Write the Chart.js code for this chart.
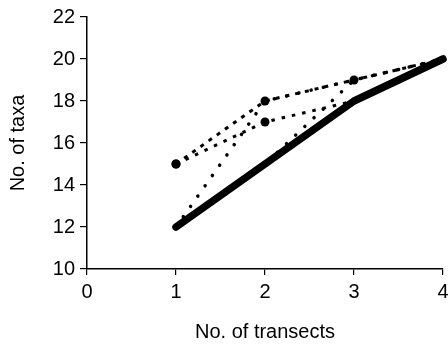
<!DOCTYPE html>
<html>
<head>
<meta charset="utf-8">
<script src="https://cdn.jsdelivr.net/npm/chart.js@4.4.1/dist/chart.umd.min.js"></script>
<style>
  html, body { margin: 0; padding: 0; background: #fff; }
  #wrap { width: 448px; height: 346px; }
</style>
</head>
<body>
<div id="wrap"><canvas id="c" width="448" height="346"></canvas></div>
<script>
// Cumulative number of taxa against number of transects sampled
const transects = [1, 2, 3, 4];
const meanTaxa   = [12, 15, 18, 20];   // thick solid curve
const orderA     = [15, 18, 19, 20];   // dashed, upper
const orderB     = [15, 17, 18, 20];   // dashed, lower
const orderC     = [12, 18, 19, 20];   // dotted, steep start
const orderD     = [12, 15, 19, 20];   // dotted, steep after 2
const xTicks = [0, 1, 2, 3, 4];
const yTicks = [10, 12, 14, 16, 18, 20, 22];

const pts = vals => transects.map((x, i) => ({ x: x, y: vals[i] }));
const FONT = { family: '"Liberation Sans", Arial, sans-serif', size: 20 };

new Chart(document.getElementById('c'), {
  type: 'line',
  data: {
    datasets: [
      { data: pts(orderD), borderColor: '#000', borderWidth: 3.5, borderDash: [0.1, 12.5],
        borderCapStyle: 'round', pointRadius: 0, clip: false },
      { data: pts(orderC), borderColor: '#000', borderWidth: 3.5, borderDash: [0.1, 12.5],
        borderCapStyle: 'round', pointRadius: 0, clip: false },
      { data: pts(orderB), borderColor: '#000', borderWidth: 3, borderDash: [3.5, 7],
        pointRadius: [4.5, 4.5, 0, 0], pointBackgroundColor: '#000', pointBorderWidth: 0, clip: false },
      { data: pts(orderA), borderColor: '#000', borderWidth: 3, borderDash: [4, 6],
        pointRadius: [4.5, 4.5, 4.5, 0], pointBackgroundColor: '#000', pointBorderWidth: 0, clip: false },
      { data: pts(meanTaxa), borderColor: '#000', borderWidth: 7.5,
        borderCapStyle: 'round', borderJoinStyle: 'round', pointRadius: 0, clip: false }
    ]
  },
  options: {
    responsive: false,
    animation: false,
    events: [],
    layout: { padding: { top: 3, right: 0, left: 0, bottom: 0 } },
    plugins: { legend: { display: false }, tooltip: { enabled: false } },
    scales: {
      x: {
        type: 'linear', min: 0, max: 4,
        afterBuildTicks: s => { s.ticks = xTicks.map(v => ({ value: v })); },
        afterFit: s => { s.height = 77; s.paddingRight = 5; },
        grid: { drawOnChartArea: false, drawTicks: true, tickLength: 6, color: '#000', lineWidth: 1.2 },
        border: { display: true, color: '#000', width: 1.5 },
        ticks: { color: '#000', font: FONT, padding: 5, maxRotation: 0 },
        title: { display: true, text: 'No. of transects', color: '#000', font: FONT, padding: { top: 0, bottom: 2 } }
      },
      y: {
        min: 10, max: 22,
        afterBuildTicks: s => { s.ticks = yTicks.map(v => ({ value: v })); },
        afterFit: s => { s.width = 87; },
        grid: { drawOnChartArea: false, drawTicks: true, tickLength: 7, color: '#000', lineWidth: 1.2 },
        border: { display: true, color: '#000', width: 1.5 },
        ticks: { color: '#000', font: FONT, padding: 5 },
        title: { display: true, text: 'No. of taxa', color: '#000', font: FONT, padding: { top: 6, bottom: 8 } }
      }
    }
  }
});
</script>
</body>
</html>
